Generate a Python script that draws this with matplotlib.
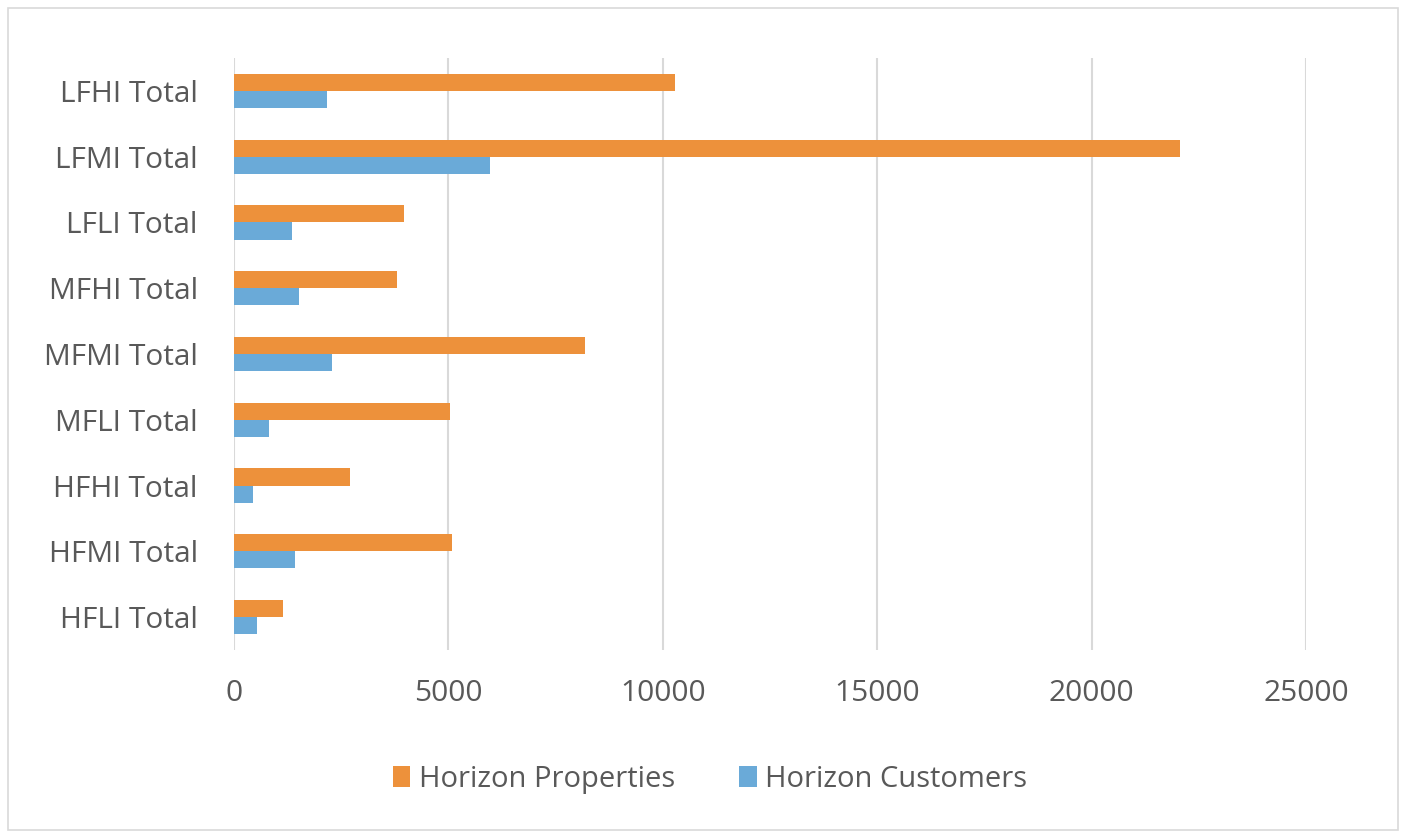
import matplotlib.pyplot as plt
import numpy as np
from matplotlib.patches import Rectangle

categories = ["LFHI Total", "LFMI Total", "LFLI Total", "MFHI Total", "MFMI Total",
              "MFLI Total", "HFHI Total", "HFMI Total", "HFLI Total"]
properties = [10290, 22050, 3960, 3800, 8190, 5040, 2710, 5095, 1140]
customers = [2170, 5960, 1355, 1525, 2280, 817, 436, 1416, 545]

orange = "#ED913B"
blue = "#6AAAD8"
grey_text = "#595959"

plt.rcParams['font.family'] = ['Open Sans', 'DejaVu Sans']

fig = plt.figure(figsize=(14.06, 8.38), dpi=100)
ax = fig.add_axes([234 / 1406, 1 - 650 / 838, (1306 - 234) / 1406, (650 - 58) / 838])

y = np.arange(len(categories))
h = 0.26
ax.barh(y - h / 2, properties, height=h, color=orange, label="Horizon Properties", zorder=3)
ax.barh(y + h / 2, customers, height=h, color=blue, label="Horizon Customers", zorder=3)

ax.set_ylim(len(categories) - 0.5, -0.5)
ax.set_xlim(0, 25000)
ax.set_xticks(np.arange(0, 25001, 5000))
ax.set_yticks(y)
ax.set_yticklabels(categories)
ax.tick_params(axis='both', length=0, labelsize=21.5, colors=grey_text)
ax.tick_params(axis='x', pad=21)
ax.tick_params(axis='y', pad=26)
ax.grid(axis='x', color="#D9D9D9", linewidth=1.5, zorder=0)
for s in ax.spines.values():
    s.set_visible(False)

ax.legend(loc='center', bbox_to_anchor=(710 / 1406, 1 - 779 / 838), bbox_transform=fig.transFigure,
          ncol=2, frameon=False, fontsize=21, handlelength=0.6, handleheight=0.75,
          handletextpad=0.3, columnspacing=2.2, labelcolor=grey_text)

fig.patches.append(Rectangle((8 / 1406, 8 / 838), 1390 / 1406, 822 / 838, transform=fig.transFigure,
                             fill=False, edgecolor="#D9D9D9", linewidth=1.2))

fig.savefig("out.png", dpi=100, facecolor="white")
